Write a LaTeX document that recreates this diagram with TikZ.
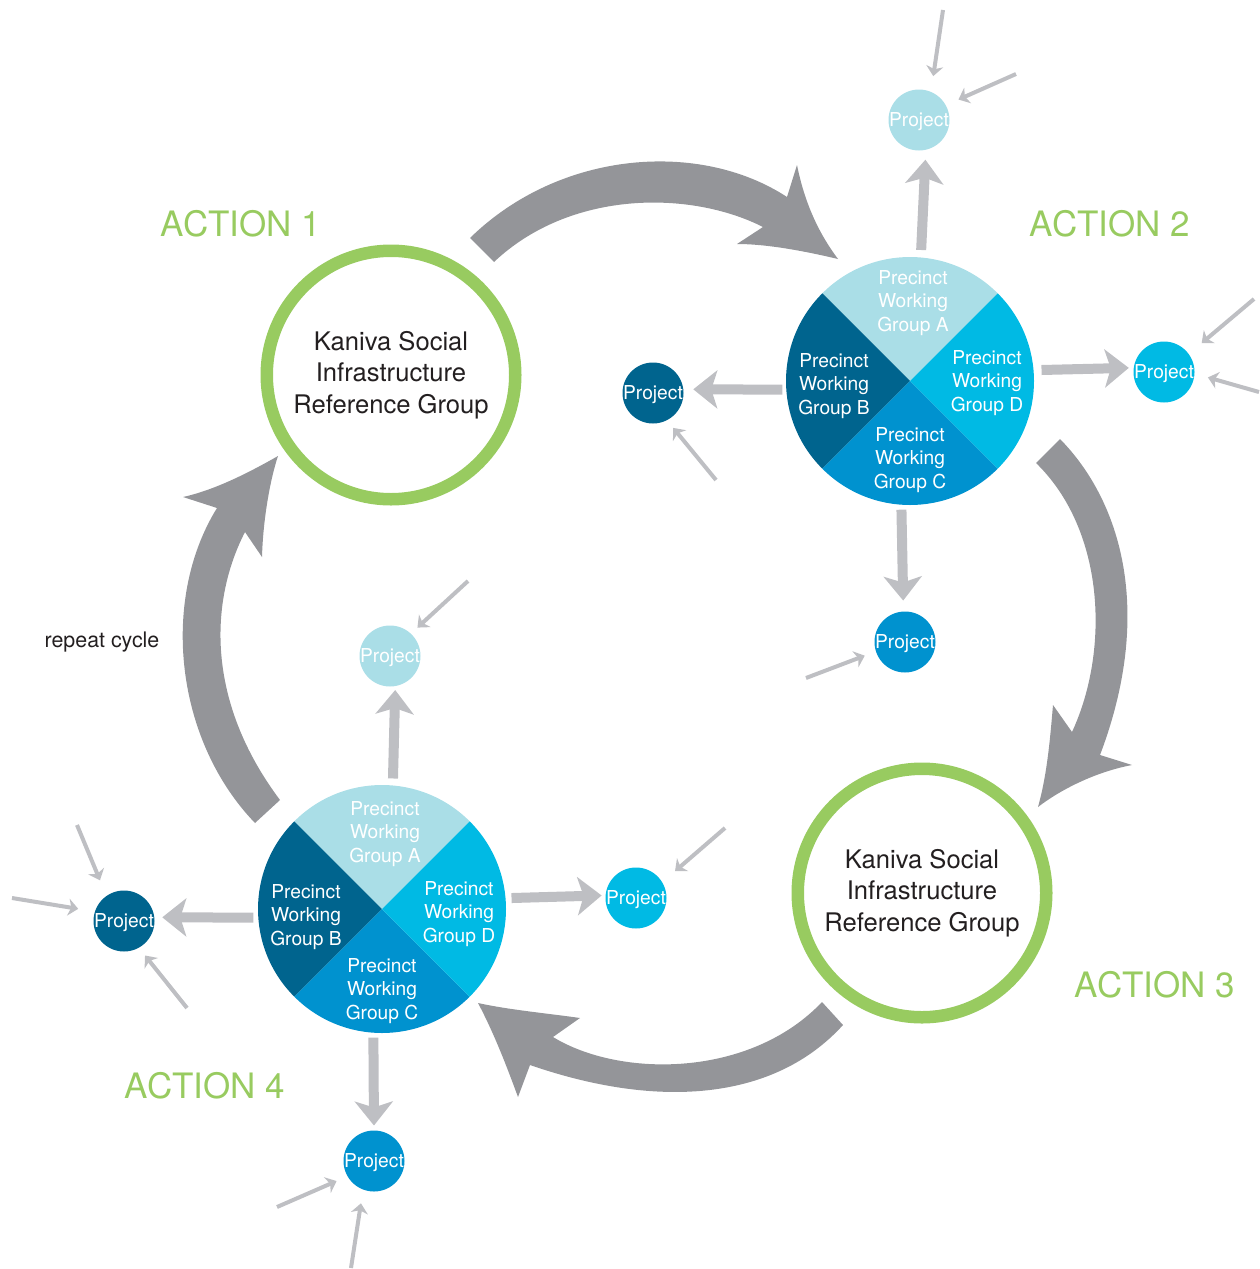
\documentclass[tikz,border=0pt]{standalone}
\usepackage{fontspec}
\setmainfont{TeX Gyre Heros}
\usetikzlibrary{arrows.meta}
\definecolor{pwA}{RGB}{170,222,231}
\definecolor{pwB}{RGB}{0,100,142}
\definecolor{pwC}{RGB}{0,146,207}
\definecolor{pwD}{RGB}{0,186,228}
\definecolor{ringgreen}{RGB}{152,203,96}
\definecolor{bigarrowgray}{RGB}{148,149,153}
\definecolor{lightarrow}{RGB}{190,191,195}
\definecolor{txtdark}{RGB}{35,31,32}
\newcommand{\projtext}{\raisebox{-3.4pt}[0pt][0pt]{\makebox[0pt]{Project}}}
\begin{document}
\begin{tikzpicture}[x=0.5pt,y=-0.5pt,
  bigarrow/.style={fill=bigarrowgray},
  refgroup/.style={circle, draw=ringgreen, line width=6.25pt, fill=white,
    minimum size=124.25pt, inner sep=0pt, outer sep=0pt, text=txtdark,
    align=center, font=\fontsize{12.8pt}{15.75pt}\selectfont},
  pienode/.style={circle, minimum size=124pt, inner sep=0pt, outer sep=0pt},
  pielabel/.style={text=white, align=center, inner sep=0pt,
    font=\fontsize{9.6pt}{11.75pt}\selectfont},
  projnode/.style={circle, minimum size=30.5pt, inner sep=0pt, outer sep=0pt,
    text=white, font=\fontsize{9.6pt}{11pt}\selectfont},
  actionlabel/.style={text=ringgreen, anchor=base, inner sep=0pt,
    font=\fontsize{17.5pt}{20pt}\selectfont},
  thickarrow/.style={draw=lightarrow, line width=5pt,
    -{Stealth[length=12pt,width=19pt,inset=3pt]}},
  thinarrow/.style={draw=lightarrow, line width=2pt,
    -{Stealth[length=5pt,width=8.5pt,inset=1.5pt]}}
]
\useasboundingbox (0,0) rectangle (1259,1269);

% ---------- big curved arrows ----------
\fill[bigarrow] (470,238) .. controls (560,150) and (700,140) .. (787,197)
  -- (797,165) .. controls (805,205) and (820,235) .. (838,259)
  .. controls (800,250) and (765,244) .. (737,244)
  -- (763,227) .. controls (690,190) and (570,190) .. (494,262) -- cycle;
\fill[bigarrow] (1060,439) .. controls (1120,500) and (1155,610) .. (1100,755)
  -- (1132,765) .. controls (1095,772) and (1060,790) .. (1038,807)
  .. controls (1047,775) and (1050,740) .. (1053,705)
  -- (1072,732) .. controls (1110,650) and (1105,530) .. (1036,463) -- cycle;
\fill[bigarrow] (843,1025) .. controls (775,1100) and (660,1110) .. (530,1065)
  -- (518,1097) .. controls (508,1070) and (495,1035) .. (478,1003)
  .. controls (510,1010) and (545,1013) .. (580,1018)
  -- (553,1037) .. controls (620,1078) and (750,1078) .. (822,1002) -- cycle;
\fill[bigarrow] (255,823) .. controls (175,740) and (160,600) .. (217,508)
  -- (183,497) .. controls (215,490) and (250,472) .. (278,456)
  .. controls (270,480) and (263,520) .. (262,557)
  -- (245,532) .. controls (210,600) and (205,700) .. (280,800) -- cycle;

% ---------- reference group circles ----------
\node[refgroup] (ref1) at (391,375) {Kaniva Social\\Infrastructure\\Reference Group};
\node[refgroup] (ref3) at (922,893) {Kaniva Social\\Infrastructure\\Reference Group};

% ---------- action labels ----------
\node[actionlabel] (act1) at (241,236) {ACTION 1};
\node[actionlabel] (act2) at (1110,236) {ACTION 2};
\node[actionlabel] (act3) at (1155,997) {ACTION 3};
\node[actionlabel] (act4) at (205,1098) {ACTION 4};
\node[anchor=base, inner sep=0pt, text=txtdark, font=\fontsize{10.7pt}{12pt}\selectfont]
  (rep) at (102,647) {repeat cycle};

% ---------- pie 1 ----------
\node[pienode] (pie1) at (910,381) {};
\fill[pwA] (pie1.center) -- (pie1.45) arc[start angle=45, end angle=135, radius=62pt] -- cycle;
\fill[pwB] (pie1.center) -- (pie1.135) arc[start angle=135, end angle=225, radius=62pt] -- cycle;
\fill[pwC] (pie1.center) -- (pie1.225) arc[start angle=225, end angle=315, radius=62pt] -- cycle;
\fill[pwD] (pie1.center) -- (pie1.-45) arc[start angle=-45, end angle=45, radius=62pt] -- cycle;
\node[pielabel] (p1A) at (913,303) {Precinct\\Working\\Group A};
\node[pielabel] (p1B) at (834,386) {Precinct\\Working\\Group B};
\node[pielabel] (p1D) at (987,383) {Precinct\\Working\\Group D};
\node[pielabel] (p1C) at (910,460) {Precinct\\Working\\Group C};

% ---------- pie 2 ----------
\node[pienode] (pie2) at (382,909) {};
\fill[pwA] (pie2.center) -- (pie2.45) arc[start angle=45, end angle=135, radius=62pt] -- cycle;
\fill[pwB] (pie2.center) -- (pie2.135) arc[start angle=135, end angle=225, radius=62pt] -- cycle;
\fill[pwC] (pie2.center) -- (pie2.225) arc[start angle=225, end angle=315, radius=62pt] -- cycle;
\fill[pwD] (pie2.center) -- (pie2.-45) arc[start angle=-45, end angle=45, radius=62pt] -- cycle;
\node[pielabel] (p2A) at (385,834) {Precinct\\Working\\Group A};
\node[pielabel] (p2B) at (306,917) {Precinct\\Working\\Group B};
\node[pielabel] (p2D) at (459,914) {Precinct\\Working\\Group D};
\node[pielabel] (p2C) at (382,991) {Precinct\\Working\\Group C};

% ---------- project circles ----------
\node[projnode, fill=pwA] (pT) at (919,120) {\projtext};
\node[projnode, fill=pwD] (pR) at (1164,372) {\projtext};
\node[projnode, fill=pwB] (pL) at (653,393) {\projtext};
\node[projnode, fill=pwC] (pBt) at (905,642) {\projtext};
\node[projnode, fill=pwA] (qT) at (390,656) {\projtext};
\node[projnode, fill=pwD] (qR) at (636,898) {\projtext};
\node[projnode, fill=pwB] (qL) at (124,921) {\projtext};
\node[projnode, fill=pwC] (qBt) at (374,1161) {\projtext};

% ---------- thick arrows from pies to projects ----------
\draw[thickarrow, shorten <=3.75pt, shorten >=5pt] (pie1.85) -- (pT.-77);
\draw[thickarrow, shorten <=4pt, shorten >=2.5pt] (pie1.5) -- (pR.172);
\draw[thickarrow, shorten <=2pt, shorten >=5pt] (pie1.-176) -- (pL.7);
\draw[thickarrow, shorten <=2.5pt, shorten >=5.5pt] (pie1.-94) -- (pBt.93);
\draw[thickarrow, shorten <=3.5pt, shorten >=2pt] (pie2.85) -- (qT.-80);
\draw[thickarrow, shorten <=3pt, shorten >=2pt] (pie2.5) -- (qR.175);
\draw[thickarrow, shorten <=2.5pt, shorten >=4pt] (pie2.-176) -- (qL.7);
\draw[thickarrow, shorten <=2.5pt, shorten >=2.5pt] (pie2.-94) -- (qBt.90);

% ---------- thin incoming arrows ----------
\coordinate (s1) at (943,10);
\coordinate (s2) at (1016,74);
\coordinate (s3) at (1254,299);
\coordinate (s4) at (1259,392);
\coordinate (s5) at (716,480);
\coordinate (s6) at (806,678);
\coordinate (s7) at (468,581);
\coordinate (s8) at (725,828);
\coordinate (s9) at (77,825);
\coordinate (s10) at (12,898);
\coordinate (s11) at (187,1008);
\coordinate (s12) at (277,1207);
\coordinate (s13) at (351,1268);
\draw[thinarrow, shorten >=8pt] (s1) -- (pT.67);
\draw[thinarrow, shorten >=7pt] (s2) -- (pT.29);
\draw[thinarrow, shorten >=8.5pt] (s3) -- (pR.36);
\draw[thinarrow, shorten >=7pt] (s4) -- (pR.-3);
\draw[thinarrow, shorten >=5pt] (s5) -- (pL.-63);
\draw[thinarrow, shorten >=6pt] (s6) -- (pBt.-162);
\draw[thinarrow, shorten >=4.5pt] (s7) -- (qT.47);
\draw[thinarrow, shorten >=8.5pt] (s8) -- (qR.31);
\draw[thinarrow, shorten >=8.5pt] (s9) -- (qL.125);
\draw[thinarrow, shorten >=8.5pt] (s10) -- (qL.162);
\draw[thinarrow, shorten >=5pt] (s11) -- (qL.-61);
\draw[thinarrow, shorten >=6pt] (s12) -- (qBt.-150);
\draw[thinarrow, shorten >=7pt] (s13) -- (qBt.-111);
\end{tikzpicture}
\end{document}
